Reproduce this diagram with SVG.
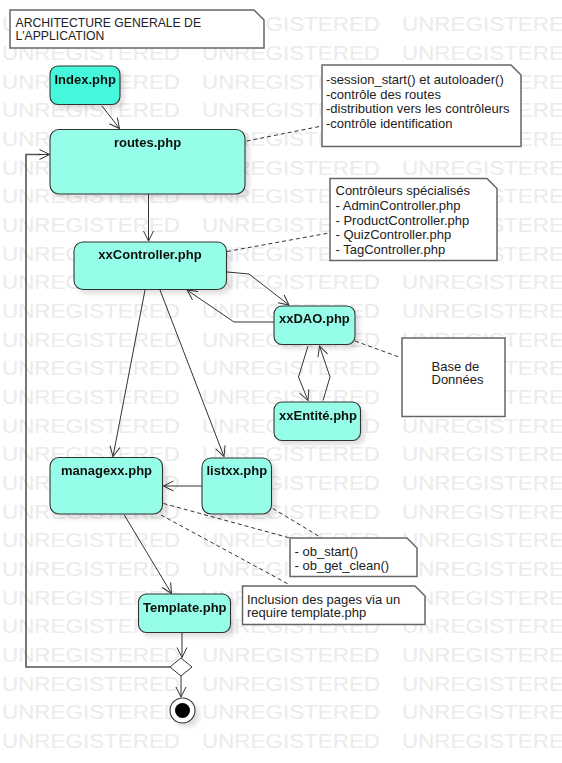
<svg xmlns="http://www.w3.org/2000/svg" xmlns:xlink="http://www.w3.org/1999/xlink" width="562" height="763" viewBox="0 0 562 763">
<style>
  .wm { font-family: "Liberation Sans", Arial, sans-serif; font-size: 20px; fill: #ebebeb; }
  .node { fill: #96fee8; stroke: #333; stroke-width: 1.1; }
  .start { fill: #44f8dc; stroke: #333; stroke-width: 1.1; }
  .lbl { font-family: "Liberation Sans", Arial, sans-serif; font-size: 13px; font-weight: bold; fill: #111; }
  .note { fill: #fff; stroke: #666; stroke-width: 1.5; }
  .ntxt { font-family: "Liberation Sans", Arial, sans-serif; font-size: 13px; fill: #222; }
  .title { font-family: "Liberation Sans", Arial, sans-serif; font-size: 12.2px; fill: #222; }
  .edge { fill: none; stroke: #333; stroke-width: 1; marker-end: url(#arr); }
  .loop { fill: none; stroke: #555; stroke-width: 1.6; }
  .dash { fill: none; stroke: #333; stroke-width: 1; stroke-dasharray: 4 3; }
</style>
<defs>
  <marker id="arr" markerUnits="userSpaceOnUse" markerWidth="12" markerHeight="12" refX="11" refY="6" orient="auto">
    <path d="M1,1 L11,6 L1,11" fill="none" stroke="#333" stroke-width="1"/>
  </marker>
  <filter id="sh" x="-20%" y="-20%" width="150%" height="150%">
    <feDropShadow dx="4" dy="4" stdDeviation="2" flood-color="#000" flood-opacity="0.12"/>
  </filter>
  <text id="wm" class="wm"><tspan x="2" textLength="178" lengthAdjust="spacingAndGlyphs">UNREGISTERED</tspan><tspan x="202" textLength="178" lengthAdjust="spacingAndGlyphs">UNREGISTERED</tspan><tspan x="402" textLength="178" lengthAdjust="spacingAndGlyphs">UNREGISTERED</tspan></text>
</defs>
<rect x="0" y="0" width="562" height="763" fill="#fff"/>
<g id="watermark">
  <use xlink:href="#wm" y="31.3"/><use xlink:href="#wm" y="60"/><use xlink:href="#wm" y="88.7"/><use xlink:href="#wm" y="117.3"/>
  <use xlink:href="#wm" y="146"/><use xlink:href="#wm" y="174.7"/><use xlink:href="#wm" y="203.3"/><use xlink:href="#wm" y="232"/>
  <use xlink:href="#wm" y="260.7"/><use xlink:href="#wm" y="289.3"/><use xlink:href="#wm" y="318"/><use xlink:href="#wm" y="346.7"/>
  <use xlink:href="#wm" y="375.3"/><use xlink:href="#wm" y="404"/><use xlink:href="#wm" y="432.7"/><use xlink:href="#wm" y="461.3"/>
  <use xlink:href="#wm" y="490"/><use xlink:href="#wm" y="518.7"/><use xlink:href="#wm" y="547.3"/><use xlink:href="#wm" y="576"/>
  <use xlink:href="#wm" y="604.7"/><use xlink:href="#wm" y="633.3"/><use xlink:href="#wm" y="662"/><use xlink:href="#wm" y="690.7"/>
  <use xlink:href="#wm" y="719.3"/><use xlink:href="#wm" y="748"/>
</g>

<g id="connectors">
  <line class="edge" x1="102" y1="106" x2="119.5" y2="128.5"/>
  <line class="edge" x1="148.5" y1="194" x2="148.5" y2="241"/>
  <polyline class="edge" points="227,272 249,274 289,305"/>
  <polyline class="edge" points="274,322 234,322 187,290"/>
  <polyline class="edge" points="308,346 298.5,377 308,400.5"/>
  <polyline class="edge" points="323,400.5 330,377 319.5,346"/>
  <line class="edge" x1="145" y1="290" x2="113" y2="456.5"/>
  <line class="edge" x1="160" y1="290" x2="224" y2="456.5"/>
  <line class="edge" x1="202" y1="486" x2="163.5" y2="486"/>
  <line class="edge" x1="124" y1="514.5" x2="171.5" y2="593.5"/>
  <line class="edge" x1="182" y1="633" x2="182" y2="657.5"/>
  <line class="edge" x1="181" y1="676" x2="181" y2="697"/>
  <polyline class="loop" points="170,667 26,667 26,154.5 40,154.5"/>
  <line class="edge" x1="38" y1="154.5" x2="49.5" y2="154.5"/>
  <line class="dash" x1="246.5" y1="141" x2="322" y2="126"/>
  <line class="dash" x1="227" y1="251.5" x2="329" y2="233"/>
  <line class="dash" x1="355" y1="341" x2="399" y2="357"/>
  <line class="dash" x1="163.5" y1="503.5" x2="290" y2="538"/>
  <line class="dash" x1="161" y1="515" x2="290" y2="585"/>
  <line class="dash" x1="273" y1="508.5" x2="320" y2="537"/>
</g>

<g id="title">
  <path class="note" d="M10,10 H254 L264,20 V48 H10 Z"/>
  <text class="title" x="15.5" y="27.3">ARCHITECTURE GENERALE DE</text>
  <text class="title" x="15.5" y="40">L'APPLICATION</text>
</g>

<g id="index" filter="url(#sh)">
  <rect class="start" x="50" y="66" width="70" height="38.5" rx="8"/>
  <text class="lbl" x="54.5" y="84">Index.php</text>
</g>
<g id="routes" filter="url(#sh)">
  <rect class="node" x="50" y="129.5" width="195" height="64.5" rx="9"/>
  <text class="lbl" x="147.5" y="147" text-anchor="middle">routes.php</text>
</g>
<g id="note-routes">
  <path class="note" d="M322,65 H511 L521,75 V146.5 H322 Z"/>
  <text class="ntxt" x="326" y="84">-session_start() et autoloader()</text>
  <text class="ntxt" x="326" y="98.5">-contrôle des routes</text>
  <text class="ntxt" x="326" y="113">-distribution vers les contrôleurs</text>
  <text class="ntxt" x="326" y="127.5">-contrôle identification</text>
</g>
<g id="note-controllers">
  <path class="note" d="M330,178.5 H487 L497,188.5 V260.5 H330 Z"/>
  <text class="ntxt" x="335.5" y="195">Contrôleurs spécialisés</text>
  <text class="ntxt" x="335.5" y="209.5">- AdminController.php</text>
  <text class="ntxt" x="335.5" y="224.5">- ProductController.php</text>
  <text class="ntxt" x="335.5" y="239">- QuizController.php</text>
  <text class="ntxt" x="335.5" y="253.5">- TagController.php</text>
</g>
<g id="xxController" filter="url(#sh)">
  <rect class="node" x="74" y="242" width="152.5" height="47.5" rx="9"/>
  <text class="lbl" x="150" y="259" text-anchor="middle">xxController.php</text>
</g>
<g id="xxDAO" filter="url(#sh)">
  <rect class="node" x="274" y="306" width="81" height="38.5" rx="8"/>
  <text class="lbl" x="279" y="323">xxDAO.php</text>
</g>
<g id="xxEntite" filter="url(#sh)">
  <rect class="node" x="274" y="402" width="86.5" height="38.5" rx="8"/>
  <text class="lbl" x="279" y="420">xxEntité.php</text>
</g>
<g id="database">
  <rect class="note" x="402" y="338" width="103" height="78.5"/>
  <text class="ntxt" x="431.5" y="371">Base de</text>
  <text class="ntxt" x="431.5" y="384">Données</text>
</g>
<g id="managexx" filter="url(#sh)">
  <rect class="node" x="50" y="457.5" width="112.5" height="56.5" rx="9"/>
  <text class="lbl" x="106.5" y="475.3" text-anchor="middle">managexx.php</text>
</g>
<g id="listxx" filter="url(#sh)">
  <rect class="node" x="202" y="458" width="69.5" height="56" rx="9"/>
  <text class="lbl" x="206.5" y="475.3">listxx.php</text>
</g>
<g id="note-ob">
  <path class="note" d="M290,538 H407 L417,548 V576.5 H290 Z"/>
  <text class="ntxt" x="294.5" y="555.5">- ob_start()</text>
  <text class="ntxt" x="294.5" y="569.5">- ob_get_clean()</text>
</g>
<g id="note-inclusion">
  <path class="note" d="M242.5,586 H415 L425,596 V624.5 H242.5 Z"/>
  <text class="ntxt" x="247" y="603.5">Inclusion des pages via un</text>
  <text class="ntxt" x="247" y="616.5">require template.php</text>
</g>
<g id="template" filter="url(#sh)">
  <rect class="node" x="138.5" y="594" width="92" height="38.5" rx="8"/>
  <text class="lbl" x="143" y="611.5">Template.php</text>
</g>
<g id="decision">
  <polygon points="181,658 192,667 181,676 170,667" fill="#fff" stroke="#333" stroke-width="1"/>
</g>
<g id="final" filter="url(#sh)">
  <circle cx="182.5" cy="710.5" r="12.5" fill="#fff" stroke="#333" stroke-width="1.1"/>
  <circle cx="182.5" cy="710.5" r="7.5" fill="#000"/>
</g>
</svg>
